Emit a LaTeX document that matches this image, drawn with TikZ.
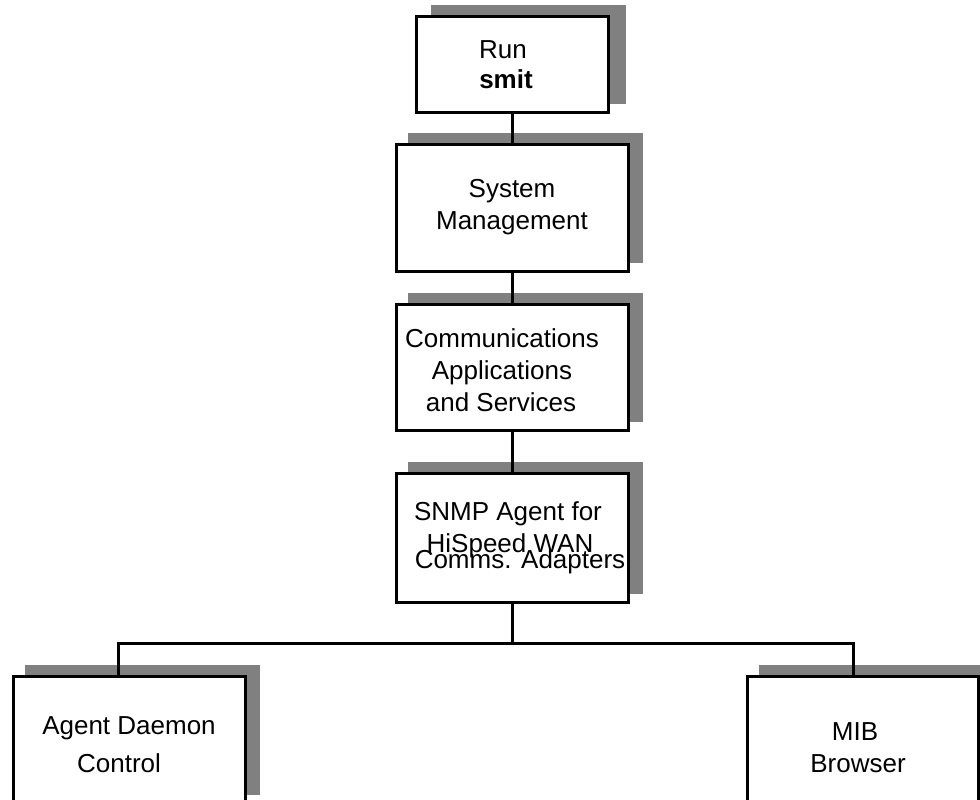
\documentclass[tikz,border=0pt]{standalone}
\usepackage{fontspec}
\setmainfont{Liberation Sans}
\usetikzlibrary{backgrounds,calc}
\newcommand{\padd}[1]{\hbox to #1{}}
\begin{document}
\begin{tikzpicture}[x=1pt,y=-1pt,
  box/.style={draw, line width=3pt, fill=white, inner sep=0pt, align=center,
              font=\fontsize{26}{32}\selectfont},
  conn/.style={line width=3pt},
  shadowfill/.style={fill=black!50}]
\clip (0,0) rectangle (980,800);
\useasboundingbox (0,0) rectangle (980,800);

\node[box, minimum width=192pt, minimum height=95pt] (run) at (512,64.5)
  {Run\padd{18pt}\\[-2pt]\textbf{smit}\padd{12pt}};
\node[box, minimum width=232pt, minimum height=127pt] (sys) at (512,207.5)
  {System\\Management};
\node[box, minimum width=232pt, minimum height=126pt] (comm) at (512,367)
  {\rule{0pt}{25pt}Communications\padd{20pt}\\Applications\padd{20pt}\\and Services\padd{22pt}};
\node[box, minimum width=232pt, minimum height=129pt] (snmp) at (512,537.5)
  {SNMP Agent for\padd{8pt}\\HiSpeed WAN\padd{4pt}\\[-16pt]\padd{16pt}Comms. Adapters};
\node[box, minimum width=232pt, minimum height=127pt] (agent) at (129,739.5)
  {\rule{0pt}{29pt}Agent Daemon\\[6pt]Control\padd{20pt}};
\node[box, minimum width=231pt, minimum height=127pt] (mib) at (862.5,739.5)
  {\rule{0pt}{34pt}MIB\padd{15pt}\\Browser\padd{9pt}};

\begin{scope}[on background layer]
  \fill[shadowfill] ([shift={(16,-10)}]run.south west) rectangle ([shift={(16,-10)}]run.north east);
  \fill[shadowfill] ([shift={(13,-10)}]sys.south west) rectangle ([shift={(13,-10)}]sys.north east);
  \fill[shadowfill] ([shift={(13,-10)}]comm.south west) rectangle ([shift={(13,-10)}]comm.north east);
  \fill[shadowfill] ([shift={(13,-10)}]snmp.south west) rectangle ([shift={(13,-10)}]snmp.north east);
  \fill[shadowfill] ([shift={(13,-10)}]agent.south west) rectangle ([shift={(13,-10)}]agent.north east);
  \fill[shadowfill] ([shift={(13,-10)}]mib.south west) rectangle ([shift={(13,-10)}]mib.north east);
\end{scope}

\coordinate (hub) at (512,643);
\draw[conn] (run.south) -- (sys.north);
\draw[conn] (sys.south) -- (comm.north);
\draw[conn] (comm.south) -- (snmp.north);
\draw[conn] (snmp.south) -- (hub);
\draw[conn] ([xshift=-11pt]agent.north) |- (hub) -| ([xshift=-9.5pt]mib.north);
\end{tikzpicture}
\end{document}
